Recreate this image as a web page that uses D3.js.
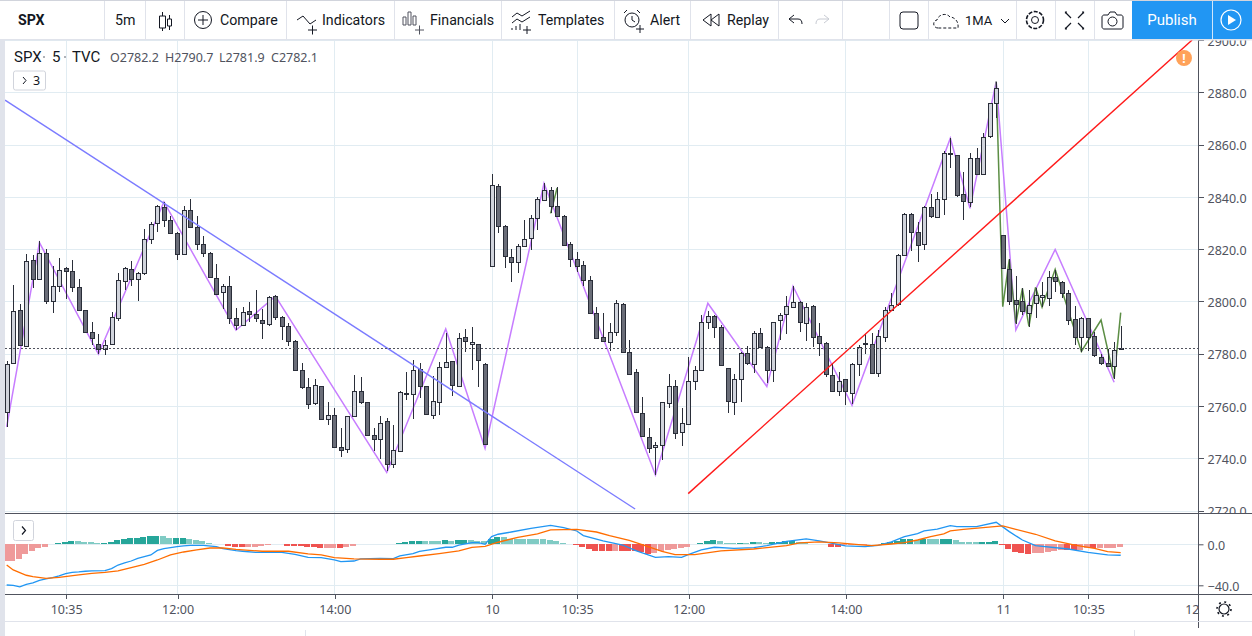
<!DOCTYPE html>
<html>
<head>
<meta charset="utf-8">
<title>SPX</title>
<script src="https://cdn.jsdelivr.net/npm/d3@7"></script>
<style>
  html, body { margin: 0; padding: 0; background: #fff; overflow: hidden; }
  text { font-family: "Noto Sans", sans-serif; fill: #131722; }
  .axis text { font-size: 12.5px; fill: #50535e; }
  .axis path, .axis line { stroke: #50535e; }
  .toolbar text, text.symbol { font-family: Roboto, sans-serif; }
</style>
</head>
<body>
<svg id="chart" width="1252" height="636"></svg>
<script>
// candles, one value per 5 minute bar
var candleOpen = [
  2757.6,2776.4,2796.7,2782.9,2815.9,2808.6,2818.6,2800.2,2805.9,2812.8,
  2811.7,2805.5,2796.7,2788.3,2783.7,2781.8,2783.7,2793.7,2807.8,2812.4,
  2808.6,2810.9,2823.9,2830.1,2836.2,2831.2,2826.2,2818.2,2835,2828.5,
  2822,2818.6,2809,2803.6,2805.9,2793.7,2791,2796.4,2795.2,2792.9,
  2791.4,2802.1,2794.1,2790.6,2784.9,2773.8,2767.2,2761.1,2767.6,2755,
  2756.5,2744.3,2743.5,2756.1,2765.7,2761.5,2748.9,2747.3,2754.2,2737.7,
  2742.7,2764.6,2764.6,2774.1,2767.6,2756.5,2761.5,2774.9,2777.2,2767.6,
  2786.4,2783.7,2783.7,2776.1,2813.6,2844.2,2828.9,2817,2815.1,2821.3,
  2824.3,2832,2838.9,2842.7,2836.6,2832.7,2822,2816.3,2814,2808.2,
  2795.6,2786.4,2784.5,2788.3,2799,2780.6,2773,2757.3,2748.1,2744.3,
  2745,2761.1,2767.6,2750,2753.1,2769.5,2773.8,2792.1,2794.4,2790.2,
  2774.5,2761.5,2770.3,2780.3,2776.1,2787.9,2782.6,2773.8,2792.9,2795.2,
  2797.9,2799.8,2791.8,2798.3,2786.8,2784.1,2771.8,2765.7,2770.3,2764.9,
  2776.1,2783.7,2783.7,2772.6,2786.6,2796.9,2798.8,2817.6,2833.3,2826.4,
  2821.8,2836,2832.2,2839.1,2856.3,2855.9,2841,2837.9,2854.8,2848.6,
  2863.2,2875.8,2825.3,2812.6,2800.7,2800,2795.8,2799.2,2801.5,2801.1,
  2809.2,2807.6,2803.4,2793.1,2786.2,2793.5,2786.6,2778.9,2776.6,2775.5,
  2782.2
];
var candleHigh = [
  2777.2,2806.1,2799.2,2818.3,2817.9,2823.3,2819.9,2813.7,2816.8,2813.2,
  2816,2808.4,2796.9,2792.1,2787.7,2785.4,2796,2810.7,2813,2815.6,
  2811.4,2827.8,2830.3,2836.8,2838.1,2832.7,2826.4,2836.6,2839,2832.7,
  2825.1,2819,2814.4,2806.8,2809.9,2797.5,2798,2799.7,2804.4,2797.1,
  2802.1,2802.3,2794.3,2791.8,2785.1,2776.4,2770.7,2770.3,2767.8,2761.5,
  2759.2,2751.5,2756.3,2771.8,2771.1,2761.7,2751.5,2756.1,2755.4,2752.7,
  2765.7,2773.1,2777.6,2776.4,2767.8,2771.5,2776.8,2787.9,2777.4,2787.9,
  2789.5,2790.2,2783.9,2776.3,2848.6,2845,2829.1,2819.9,2822,2831.3,
  2833.1,2840,2845.4,2843.9,2843.6,2832.9,2822.8,2819,2815.5,2809.8,
  2797.9,2795.6,2791.8,2800.6,2799.4,2785.2,2774.1,2763.4,2751.5,2746.2,
  2761.7,2772.2,2769.9,2759.2,2778.7,2775.3,2794.8,2796.4,2794.8,2791,
  2774.7,2772.2,2780.6,2782.9,2788.7,2789.8,2782.8,2792.3,2795.6,2802.1,
  2805.9,2800,2799.4,2798.5,2791.8,2784.3,2776.4,2773,2770.5,2776.3,
  2783.3,2787.5,2787.9,2789.2,2797.7,2803.4,2818,2833.7,2833.7,2830.2,
  2836.4,2841,2841.9,2857.4,2862.4,2856.1,2849.4,2856.7,2858.6,2864.3,
  2876,2884,2825.5,2816.1,2809.9,2805,2804.2,2805.3,2807.6,2811.7,
  2812.2,2807.8,2804.3,2798.4,2794.2,2793.7,2788.5,2780,2782,2784.3,
  2790.7
];
var candleLow = [
  2751.8,2776.2,2783.1,2782.7,2805,2808.4,2798.9,2795.5,2803.5,2801,
  2803.5,2796.5,2787.9,2783.5,2780,2779.4,2783.5,2792.4,2804.5,2805.8,
  2800.1,2810.1,2821.9,2826.5,2828.4,2826,2815.8,2817.8,2828.2,2819.6,
  2816.9,2809.2,2802.5,2797.1,2791.4,2789.1,2790.6,2792,2792,2785.6,
  2790.6,2792.9,2785.1,2782.8,2773.6,2766.7,2758.8,2760.2,2754.6,2752.6,
  2744.1,2740.4,2742.2,2755.9,2760.9,2748.7,2742.7,2739.7,2735.1,2736.2,
  2742.5,2762.3,2755.1,2763.2,2756.5,2755.1,2756.6,2774.7,2763.9,2767.4,
  2780.6,2773.9,2767.4,2745.2,2813.4,2826,2812.7,2807.3,2810.8,2821.1,
  2819.6,2827.5,2838.5,2833.9,2832.5,2821.4,2813.1,2811.2,2805.8,2795.4,
  2785.8,2784.5,2780.9,2786.6,2780.4,2772,2757.5,2748.1,2742,2733.7,
  2739.3,2759.2,2747.3,2744.6,2752.9,2766.1,2773.6,2789.5,2786,2775.3,
  2757.3,2756.5,2761.5,2775.7,2772.6,2782.4,2768.8,2769.2,2785.1,2787.5,
  2797.7,2788.3,2784.9,2782.6,2779,2771.1,2765.5,2764,2760.2,2760.7,
  2771.6,2780,2772.2,2771.1,2784.5,2796.7,2798.4,2817.4,2819.3,2814.9,
  2819.5,2831.8,2832,2832.9,2850.9,2840.1,2831,2836,2848.4,2848.4,
  2862.4,2870.1,2812.4,2798.8,2791.5,2795,2790.4,2793.8,2797.7,2798.4,
  2803.7,2801.3,2791,2783.5,2780.8,2781.2,2778.9,2775.8,2775.1,2770.5,
  2781.9
];
var candleClose = [
  2775.9,2796.4,2783.3,2815.5,2808.6,2818.6,2800.2,2805.9,2812.1,2811.7,
  2805.5,2796.7,2788.3,2786,2781.8,2783.3,2794.1,2808.2,2812.8,2808.6,
  2810.9,2823.9,2829.7,2836.6,2831.2,2826.2,2818.2,2835,2828.5,2822,
  2818.6,2809.4,2802.9,2805.9,2793.7,2791,2796,2795.2,2793.7,2791.8,
  2801.7,2794.1,2790.6,2784.9,2773.8,2767.2,2760.7,2768,2755,2756.5,
  2744.3,2743.1,2756.1,2765.7,2761.5,2748.9,2747.3,2753.4,2737.7,2743.1,
  2765.3,2764.9,2773.8,2767.6,2756.9,2761.9,2774.9,2776.8,2768,2786,
  2784.9,2784.5,2777.6,2745.4,2844.6,2828.9,2817.4,2815.1,2821.3,2823.9,
  2832,2839.3,2842.7,2836.6,2832.7,2821.6,2816.3,2813.6,2808.2,2795.6,
  2786,2784.9,2788.3,2799.4,2780.6,2772.2,2757.7,2748.5,2743.9,2745,
  2761.5,2767.6,2749.6,2753.4,2769.5,2773.8,2792.1,2794.4,2790.2,2775.7,
  2761.9,2770.3,2780.3,2776.4,2787.9,2782.6,2773.8,2792.1,2794.8,2798.3,
  2799.8,2792.1,2797.9,2786.4,2784.1,2772.2,2765.7,2769.5,2765.7,2776.1,
  2782.6,2784.1,2772.6,2786.8,2796.9,2798.8,2817.6,2833.3,2826.4,2821.4,
  2836,2832.5,2839.1,2856.7,2856.7,2840.6,2838.3,2854.8,2848.6,2862.8,
  2875.8,2881.6,2812.6,2800.4,2799.2,2796.1,2798.8,2802.3,2802.3,2809.2,
  2807.6,2803.4,2793.1,2786.2,2793.5,2786.2,2779.3,2776.6,2775.5,2781.6,
  2782.1
];

// swing lines, vertices given as bar number and price
var swingBars = [0,5,14,24,35,41,58,67,73,82,99,107,116,120,129,144,147,151,154,160,169];
var swingPrices = [2752,2822.5,2779.9,2838.1,2789,2802,2734.6,2789.5,2743.8,2845.2,2733.6,2799.3,2767.5,2805.8,2760.3,2862.4,2835.6,2884.1,2789.1,2819.9,2769.1];
var minorBars = [151,152,153,154,155,156,157,158,160,164,167,169,170];
var minorPrices = [2884.1,2798,2816.1,2791.6,2805,2790.5,2805.4,2797.8,2812.3,2780.9,2792.9,2770.6,2795.7];
var earlyMinorBars = [83,84];
var earlyMinorPrices = [2833.7,2843.4];

// hand drawn trend lines
var fallingLineBars = [-0.25,95.9];
var fallingLinePrices = [2877,2720.6];
var risingLineBars = [104,180.9];
var risingLinePrices = [2726.5,2900];

var lastClose = 2782.1;

// macd pane
var macdHist = [
  -16.3,-16.2,-14.3,-9.4,-6.5,-3.3,-2.3,-0.1,1.3,2.3,
  3.3,3.2,2.3,2.2,1.3,1.4,2.3,3.9,5.2,6.2,
  6.3,7.2,8.1,8.2,8.1,6.2,6.3,6.4,5.2,4.1,
  3.2,1.3,0.3,0.1,-1.3,-2.3,-2.4,-2.3,-2.2,-1.6,
  -1,0,0,-1.3,-1.4,-2,-2.9,-3,-3.6,-3.3,
  -3.2,-3.6,-2.3,-1.3,0,0,0,0.4,0,0,
  1.3,2.3,3.2,3.3,2.9,2.9,2.8,3.9,3.2,4.2,
  4.3,3.9,2.9,2.8,5.2,7.2,6.9,5.2,5.1,5,
  4.9,4.8,4.7,3.9,3.2,1.3,0,-1,-2.3,-4.9,
  -6.2,-6.3,-6.4,-6.3,-6.4,-6.5,-6.9,-7.8,-9.4,-8.5,
  -6.5,-5.9,-4.6,-3.6,-2.6,0,1.3,2.9,4.2,3.2,
  1.6,1.5,1.6,1.5,2.3,2.2,1.6,2.3,2.4,3.2,
  3.3,2.3,2.2,0.7,0,0,-2.3,-2.4,-1,-0.7,
  -0.3,-0.2,0,0.3,1,1.9,3.2,5.2,5.3,4.6,
  5.2,5.1,5,5.1,5.2,4.2,2.3,2.2,2.1,2.2,
  2.3,3.2,-1,-4.2,-7.1,-8.1,-9.1,-8.4,-8.3,-7.1,
  -6.2,-5.5,-5.6,-5.7,-5.4,-3.9,-4,-3.9,-3.8,-3.2,
  -2.3
];
var macdBars = [0,1,2,3,4,5,6,7,8,9,10,11,12,13,15,16,17,18,19,20,22,23,24,25,26,27,28,30,32,33,35,36,38,42,44,46,48,50,51,53,54,57,59,60,62,63,65,67,68,69,71,72,73,74,75,77,80,83,85,87,88,91,94,96,99,101,103,104,106,108,111,114,116,119,122,124,126,128,131,133,135,137,139,140,142,144,145,148,151,153,155,157,162,165,168,170];
var macdValues = [-39.7,-40,-41.6,-39,-37.7,-35.1,-33.8,-32.5,-30.9,-28.6,-27.3,-27,-26.3,-26,-25.7,-23.7,-20.2,-18.2,-16.3,-13.7,-10.4,-5.9,-4.2,-3.3,-2.3,-1.6,-1,-1,-2.3,-4.2,-6.2,-6.8,-7.8,-7.8,-9.8,-12.7,-13,-15.3,-16.9,-16.3,-14.3,-13.7,-14,-11.4,-9.1,-6.8,-4.9,-2.9,-2.9,-0.7,1.6,1.6,0,7.5,9.8,12,15.6,18.5,16.3,13,8.5,3.3,-0.7,-6.2,-12.7,-12,-12.7,-10.1,-5.5,-2.9,-3.9,-3.3,-1.3,2.9,5.2,3.3,1,-1.6,-2.3,-1,2.3,7.5,10.4,13,14.9,18.2,17.2,17.2,21.5,12.4,4.2,-1.3,-4.6,-7.8,-10.4,-10.7];
var signalBars = [0,1,3,4,6,8,11,13,15,17,19,21,23,25,27,29,31,33,35,37,39,43,46,48,50,53,57,59,61,63,66,69,71,73,75,78,81,83,87,90,92,95,98,100,102,105,109,114,119,121,124,127,130,132,135,137,139,141,143,144,146,149,152,154,157,160,163,166,168,170];
var signalValues = [-20.2,-25,-30.2,-31.5,-33.2,-32.2,-29.9,-28.3,-27.3,-26,-22.8,-19.5,-15.3,-10.4,-7.5,-5.5,-3.6,-3.6,-4.9,-5.9,-6.8,-6.8,-9.4,-10.4,-13,-14.3,-14.6,-14.6,-13,-11.4,-9.1,-6.5,-2.9,-2,2,6.8,10.1,14,14.6,12,8.5,3.9,-2.6,-6.8,-10.1,-10.1,-6.5,-4.6,-1.3,1.3,2.3,1.3,-0.3,-1.3,0.3,1.6,4.2,7.5,10.1,13,14.6,16.3,17.9,14.6,9.8,3.3,-0.7,-3.9,-7.2,-8.1];

// axes
var priceTicks = [2720,2740,2760,2780,2800,2820,2840,2860,2880,2900];
var macdTicks = [-40,0];
var timeTickBars = [9,26,50,74,87,104,128,152,165,182];
var timeTickLabels = ["10:35","12:00","14:00","10","10:35","12:00","14:00","11","10:35","12"];

var svg = d3.select("#chart");

var x = d3.scaleLinear().domain([0, 170]).range([6.67, 1120.7]);
var yPrice = d3.scaleLinear().domain([2720, 2900]).range([510.6, 40]);
var yMacd = d3.scaleLinear().domain([-40, 0]).range([585.3, 544.3]);

var defs = svg.append("defs");
defs.append("clipPath").attr("id", "mainClip").append("rect")
  .attr("x", 5).attr("y", 40).attr("width", 1193).attr("height", 473);
defs.append("clipPath").attr("id", "macdClip").append("rect")
  .attr("x", 5).attr("y", 514).attr("width", 1193).attr("height", 80);

var gridColor = "#e1ecf2";

// grid
var grid = svg.append("g").attr("shape-rendering", "crispEdges");
grid.selectAll(".hp").data(priceTicks).enter().append("line")
  .attr("x1", 5).attr("x2", 1198)
  .attr("y1", d => Math.round(yPrice(d)) + 0.5).attr("y2", d => Math.round(yPrice(d)) + 0.5)
  .attr("stroke", gridColor).attr("clip-path", "url(#mainClip)");
grid.selectAll(".hm").data(macdTicks).enter().append("line")
  .attr("x1", 5).attr("x2", 1198)
  .attr("y1", d => Math.round(yMacd(d)) + 0.5).attr("y2", d => Math.round(yMacd(d)) + 0.5)
  .attr("stroke", gridColor);
grid.selectAll(".v").data(timeTickBars.slice(0, 9)).enter().append("line")
  .attr("x1", d => Math.round(x(d)) + 0.5).attr("x2", d => Math.round(x(d)) + 0.5)
  .attr("y1", 40).attr("y2", 594)
  .attr("stroke", gridColor);

// lines that sit under the candles
var main = svg.append("g").attr("clip-path", "url(#mainClip)");
var pathFrom = function (bars, values, scale) {
  return d3.line().x(d => x(d)).y((d, i) => scale(values[i]))(bars);
};
main.append("path").attr("d", pathFrom(swingBars, swingPrices, yPrice))
  .attr("fill", "none").attr("stroke", "#c77dff").attr("stroke-width", 1.5);
main.append("path").attr("d", pathFrom(minorBars, minorPrices, yPrice))
  .attr("fill", "none").attr("stroke", "#3f7a24").attr("stroke-opacity", 0.85).attr("stroke-width", 1.5);
main.append("path").attr("d", pathFrom(earlyMinorBars, earlyMinorPrices, yPrice))
  .attr("fill", "none").attr("stroke", "#3f7a24").attr("stroke-opacity", 0.85).attr("stroke-width", 1.5);

// candles
var bars = main.selectAll(".bar").data(candleOpen).enter().append("g")
  .attr("shape-rendering", "crispEdges");
bars.append("line")
  .attr("x1", (d, i) => Math.round(x(i)) + 0.5).attr("x2", (d, i) => Math.round(x(i)) + 0.5)
  .attr("y1", (d, i) => yPrice(candleHigh[i])).attr("y2", (d, i) => yPrice(candleLow[i]))
  .attr("stroke", "#2a2e39");
bars.append("rect")
  .attr("x", (d, i) => Math.round(x(i)) - 1.5)
  .attr("width", 4)
  .attr("y", (d, i) => Math.round(yPrice(Math.max(d, candleClose[i]))) + 0.5)
  .attr("height", (d, i) => Math.max(1, Math.round(yPrice(Math.min(d, candleClose[i])) - yPrice(Math.max(d, candleClose[i])))))
  .attr("fill", (d, i) => candleClose[i] >= d ? "#d1d4dc" : "#6a6d78")
  .attr("stroke", "#2a2e39");

// trend lines and last price line go over the candles
main.append("path").attr("d", pathFrom(fallingLineBars, fallingLinePrices, yPrice))
  .attr("fill", "none").attr("stroke", "#7b7bff").attr("stroke-width", 1.4);
main.append("path").attr("d", pathFrom(risingLineBars, risingLinePrices, yPrice))
  .attr("fill", "none").attr("stroke", "#ff1a1a").attr("stroke-width", 1.4);
main.append("line")
  .attr("x1", 5).attr("x2", 1198)
  .attr("y1", Math.round(yPrice(lastClose)) + 0.5).attr("y2", Math.round(yPrice(lastClose)) + 0.5)
  .attr("stroke", "#50535e").attr("stroke-dasharray", "2 2").attr("shape-rendering", "crispEdges");

// macd
var macdPane = svg.append("g").attr("clip-path", "url(#macdClip)");
macdPane.selectAll(".hist").data(macdHist).enter().append("rect")
  .attr("x", (d, i) => Math.round(x(i)) - 4)
  .attr("width", 6)
  .attr("y", d => Math.min(yMacd(d), yMacd(0)))
  .attr("height", d => Math.abs(yMacd(d) - yMacd(0)))
  .attr("shape-rendering", "crispEdges")
  .attr("fill", function (d, i) {
    var prev = i > 0 ? macdHist[i - 1] : -99;
    if (d >= 0) return d > prev ? "#26a69a" : "#80cbc4";
    return d < prev ? "#ef5350" : "#ef9a9a";
  });
macdPane.append("path").attr("d", pathFrom(macdBars, macdValues, yMacd))
  .attr("fill", "none").attr("stroke", "#2196f3").attr("stroke-width", 1.3);
macdPane.append("path").attr("d", pathFrom(signalBars, signalValues, yMacd))
  .attr("fill", "none").attr("stroke", "#ff6d00").attr("stroke-width", 1.3);

// pane borders
var border = svg.append("g").attr("shape-rendering", "crispEdges").attr("stroke", "#50535e");
border.append("line").attr("x1", 5).attr("x2", 1252).attr("y1", 513.5).attr("y2", 513.5);
border.append("line").attr("x1", 5).attr("x2", 1252).attr("y1", 594.5).attr("y2", 594.5);

// axes
var priceAxis = d3.axisRight(yPrice).tickValues(priceTicks).tickFormat(d3.format(".1f")).tickSize(5).tickPadding(4);
var gPrice = svg.append("g").attr("class", "axis").attr("transform", "translate(1198.5,0)").call(priceAxis);
gPrice.select(".domain").attr("d", "M0,40V628").attr("shape-rendering", "crispEdges");
gPrice.selectAll(".tick line").attr("shape-rendering", "crispEdges");
gPrice.selectAll(".tick text").attr("dy", "0.42em");
// bottom price label is cut by the pane border
svg.append("rect").attr("x", 1204).attr("y", 514).attr("width", 48).attr("height", 20).attr("fill", "#fff");
var macdAxis = d3.axisRight(yMacd).tickValues(macdTicks).tickFormat(d3.format(".1f")).tickSize(5).tickPadding(4);
var gMacd = svg.append("g").attr("class", "axis").attr("transform", "translate(1198.5,0)").call(macdAxis);
gMacd.select(".domain").remove();
gMacd.selectAll(".tick text").attr("dy", "0.42em");

var timeAxis = d3.axisBottom(x).tickValues(timeTickBars)
  .tickFormat((d, i) => timeTickLabels[i]).tickSize(4).tickPadding(7);
var gTime = svg.append("g").attr("class", "axis").attr("transform", "translate(0.5,594.5)").call(timeAxis);
gTime.select(".domain").remove();
gTime.selectAll(".tick line").attr("shape-rendering", "crispEdges");
gTime.selectAll(".tick").filter(d => d == 182).select("line").remove();
gTime.selectAll(".tick").filter(d => d == 182).select("text").attr("x", -8);

// chrome
svg.append("rect").attr("x", 0).attr("y", 0).attr("width", 5).attr("height", 636).attr("fill", "#e0e3eb");
svg.append("rect").attr("x", 0).attr("y", 0).attr("width", 1252).attr("height", 39).attr("fill", "#fff");
svg.append("rect").attr("x", 0).attr("y", 0).attr("width", 1252).attr("height", 1).attr("fill", "#d1d4dc");
svg.append("rect").attr("x", 0).attr("y", 39).attr("width", 1252).attr("height", 1.5).attr("fill", "#e0e3eb");
svg.append("rect").attr("x", 5).attr("y", 621).attr("width", 1247).attr("height", 1).attr("fill", "#e0e3eb");
svg.append("rect").attr("x", 305).attr("y", 630).attr("width", 1).attr("height", 6).attr("fill", "#e0e3eb");
svg.append("rect").attr("x", 1134).attr("y", 630).attr("width", 1).attr("height", 6).attr("fill", "#e0e3eb");

var toolbarSeparators = [104,145,184,286,394,501,614,690,778,842,889,928,1016,1055,1094];
svg.selectAll(".sep").data(toolbarSeparators).enter().append("rect")
  .attr("x", d => d).attr("y", 1).attr("width", 1).attr("height", 38).attr("fill", "#e0e3eb");

var toolbarTexts = [
  ["SPX", 18, 700], ["5m", 115, 400], ["Compare", 220, 400], ["Indicators", 322, 400],
  ["Financials", 430, 400], ["Templates", 538, 400], ["Alert", 650, 400], ["Replay", 727, 400], ["1MA", 965, 400]
];
svg.append("g").attr("class", "toolbar").selectAll(".tbt").data(toolbarTexts).enter().append("text")
  .attr("x", d => d[1]).attr("y", 25)
  .attr("font-size", d => d[0] == "1MA" ? 13 : 14.2).attr("font-weight", d => d[2])
  .text(d => d[0]);

// small icons
var icons = svg.append("g").attr("fill", "none").attr("stroke", "#131722").attr("stroke-width", 1);
icons.append("path").attr("d", "M162.5 12v4M159.5 16h6v12h-6zM162.5 28v3M169.5 15v4M167.5 19h4v7h-4zM169.5 26v4");
icons.append("circle").attr("cx", 203).attr("cy", 20).attr("r", 8.5);
icons.append("path").attr("d", "M203 15v10M198 20h10");
icons.append("path").attr("d", "M297 20l6-4 7 8 6-4M308 30h9M312.5 25.5v9");
icons.append("path").attr("d", "M403 17h3v8h-3zM408 12h3v13h-3zM413 16h3v9h-3zM415 30h9M419.5 25.5v9").attr("stroke", "#50535e");
icons.append("path").attr("d", "M512 17l5-4 5 3 8-5M512 23l5-4 5 3 8-5M512 30v-2M516 30v-4M520 30v-6M523 30h8M527 26v8");
icons.append("circle").attr("cx", 632).attr("cy", 20).attr("r", 7);
icons.append("path").attr("d", "M632 16v4l3 2M624 13l3-3M637 10l3 3M636 29h8M640 25v8");
icons.append("path").attr("d", "M711 14l-8 6 8 6zM719 14l-8 6 8 6z");
icons.append("path").attr("d", "M794 15l-5 4 5 4M789 19h9c3 0 4 2 4 5");
icons.append("path").attr("d", "M824 15l5 4-5 4M829 19h-9c-3 0-4 2-4 5").attr("stroke", "#c8cbd3");
icons.append("rect").attr("x", 900).attr("y", 12).attr("width", 18).attr("height", 17).attr("rx", 3);
icons.append("path").attr("d", "M938 28c-5 0-6-7-1-8 1-5 9-8 13-3 3 0 9 3 8 11z").attr("stroke-dasharray", "3 2");
icons.append("path").attr("d", "M1001 19l4 4 4-4");
icons.append("circle").attr("cx", 1035).attr("cy", 20).attr("r", 3.5);
icons.append("circle").attr("cx", 1035).attr("cy", 20).attr("r", 8.5).attr("stroke-dasharray", "4 1.5").attr("stroke-width", 1.6);
icons.append("path").attr("d", "M1067 12h-1.5v1.5M1066 13l5 5M1082 12h1.5v1.5M1083 13l-5 5M1067 29h-1.5v-1.5M1066 28l5-5M1082 29h1.5v-1.5M1083 28l-5-5").attr("stroke-width", 1.2);
icons.append("path").attr("d", "M1104 15h4l2-3h5l2 3h4c1 0 2 1 2 2v10c0 1-1 2-2 2h-17c-1 0-2-1-2-2v-10c0-1 1-2 2-2z");
icons.append("circle").attr("cx", 1112.5).attr("cy", 21.5).attr("r", 4.5);

// publish block
svg.append("rect").attr("x", 1132).attr("y", 1).attr("width", 120).attr("height", 38).attr("fill", "#2196f3");
svg.append("rect").attr("x", 1212).attr("y", 1).attr("width", 1).attr("height", 38).attr("fill", "#cfe6fb");
svg.append("text").attr("class", "symbol").attr("x", 1172).attr("y", 25).attr("text-anchor", "middle")
  .attr("font-size", 15).style("fill", "#fff").text("Publish");
svg.append("circle").attr("cx", 1231).attr("cy", 20).attr("r", 10).attr("fill", "none").attr("stroke", "#fff").attr("stroke-width", 1.2);
svg.append("path").attr("d", "M1228 15l8 5-8 5z").attr("fill", "#fff");

// legend
var legend = svg.append("g");
var legendNames = [["SPX", 14], ["5", 52], ["TVC", 72]];
legend.selectAll(".name").data(legendNames).enter().append("text")
  .attr("class", "symbol").attr("x", d => d[1]).attr("y", 62).attr("font-size", 15).text(d => d[0]);
legend.append("circle").attr("cx", 44).attr("cy", 57).attr("r", 1).attr("fill", "#9598a1");
legend.append("circle").attr("cx", 65).attr("cy", 57).attr("r", 1).attr("fill", "#9598a1");
var legendValues = [["O2782.2", 110], ["H2790.7", 165], ["L2781.9", 219], ["C2782.1", 271]];
legend.selectAll(".ohlc").data(legendValues).enter().append("text")
  .attr("x", d => d[1]).attr("y", 62).attr("font-size", 12.5).style("fill", "#50535e").text(d => d[0]);

legend.append("rect").attr("x", 13.5).attr("y", 71).attr("width", 32).attr("height", 19).attr("rx", 2)
  .attr("fill", "#fff").attr("stroke", "#d1d4dc");
legend.append("path").attr("d", "M23 77l3 3.5-3 3.5").attr("fill", "none").attr("stroke", "#131722");
legend.append("text").attr("x", 33).attr("y", 85).attr("font-size", 12.5).text("3");

legend.append("rect").attr("x", 13.5).attr("y", 520.5).attr("width", 20).attr("height", 20).attr("rx", 2)
  .attr("fill", "#fff").attr("stroke", "#d1d4dc");
legend.append("path").attr("d", "M22 526.5l3.5 4-3.5 4").attr("fill", "none").attr("stroke", "#131722").attr("stroke-width", 1.2);

// warning badge
svg.append("circle").attr("cx", 1184).attr("cy", 58).attr("r", 8).attr("fill", "#ffa259");
svg.append("text").attr("x", 1184).attr("y", 62.5).attr("text-anchor", "middle")
  .attr("font-size", 12).attr("font-weight", 700).style("fill", "#fff").text("!");

// settings gear below the price axis
svg.append("circle").attr("cx", 1224).attr("cy", 609).attr("r", 5).attr("fill", "none").attr("stroke", "#131722").attr("stroke-width", 1.2);
svg.append("circle").attr("cx", 1224).attr("cy", 609).attr("r", 7).attr("fill", "none").attr("stroke", "#131722").attr("stroke-width", 1.6).attr("stroke-dasharray", "2 3.5");
</script>
</body>
</html>
